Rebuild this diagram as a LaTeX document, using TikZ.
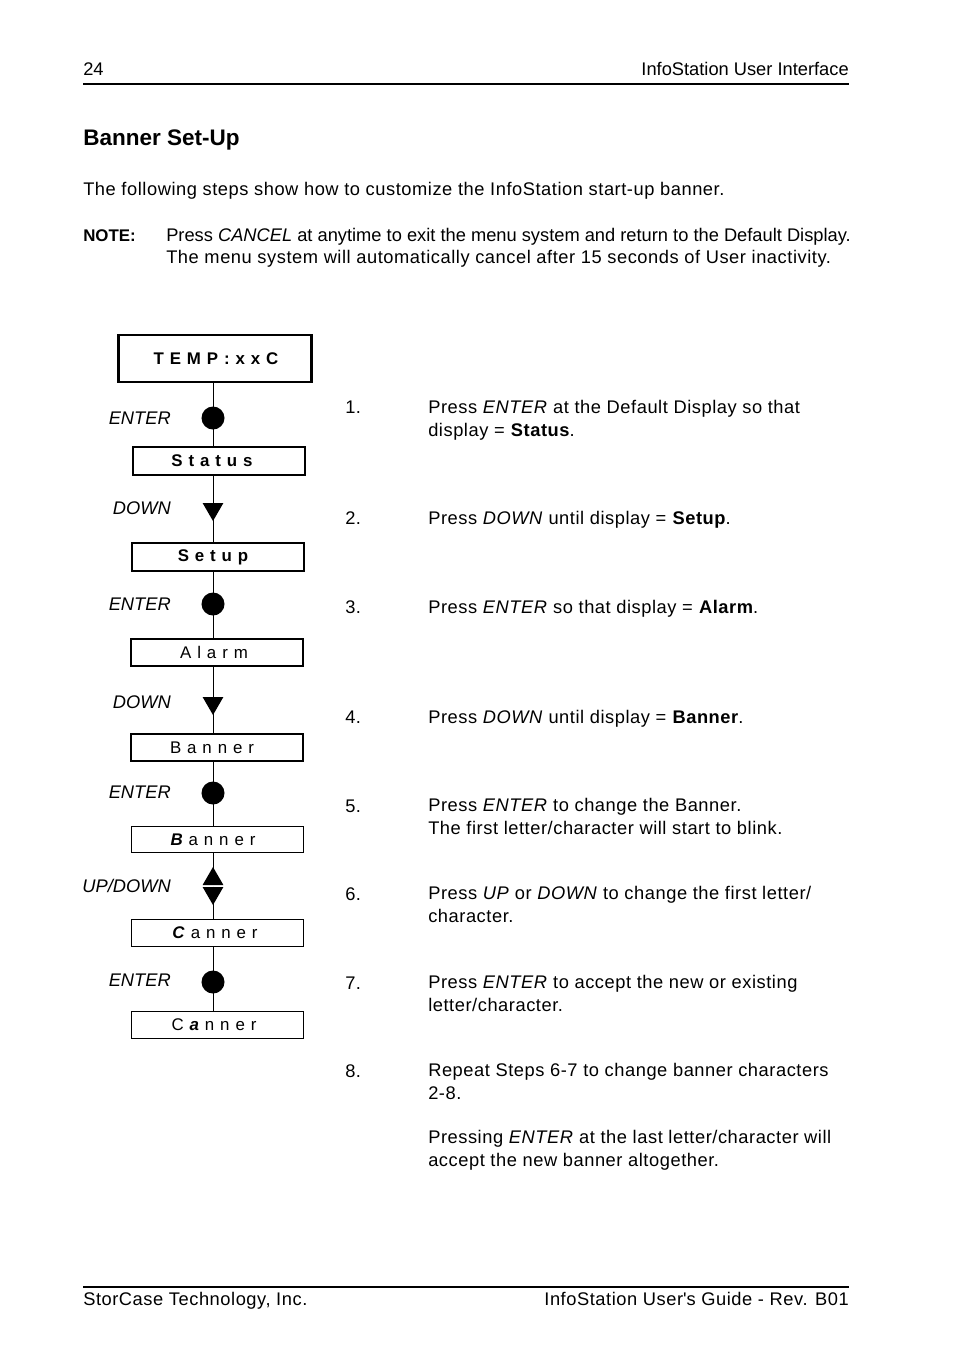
\documentclass[tikz,border=0pt]{standalone}
\usepackage{fontspec}
\setmainfont{Liberation Sans}[LetterSpace=3]
\newfontfamily\plainfont{Liberation Sans}
\newfontfamily\lcdfont[LetterSpace=35]{Liberation Sans}
\usetikzlibrary{positioning,arrows.meta,shapes.geometric,backgrounds}

\begin{document}
\begin{tikzpicture}[x=0.025cm, y=-0.025cm,
    every node/.style={font=\fontsize{13}{16.2}\selectfont, inner sep=0pt},
    txt/.style={anchor=base west, align=left},
    rtxt/.style={anchor=base east, align=right},
    keylabel/.style={anchor=east, font=\fontsize{13}{15}\selectfont\plainfont\itshape},
    lcd/.style={draw, line width=1.4pt, minimum width=4.3cm, minimum height=0.68cm},
    lcdthin/.style={draw, line width=0.7pt, minimum width=4.3cm, minimum height=0.66cm},
    lcdtext/.style={font=\fontsize{12}{14}\selectfont\lcdfont},
    enterkey/.style={circle, fill, minimum size=0.575cm},
    downkey/.style={regular polygon, regular polygon sides=3, shape border rotate=180,
                    fill, minimum size=0.6cm},
    upkey/.style={regular polygon, regular polygon sides=3, fill, minimum size=0.6cm},
    conn/.style={line width=0.6pt}]
  \useasboundingbox (0,0) rectangle (954,1369);
  % page header and intro
  \node[txt, font=\fontsize{13}{16}\selectfont\plainfont] (pagenum) at (83,75) {24};
  \node[rtxt, font=\fontsize{13}{16}\selectfont\plainfont] (chapter) at (849,75) {InfoStation User Interface};
  \draw[line width=0.8pt] (83,84) -- (849,84);
  \node[txt, font=\fontsize{16}{19}\selectfont\plainfont\bfseries] (title) at (83,145) {Banner Set-Up};
  \node[txt] (intro) at (83,195)
       {The following steps show how to customize the InfoStation start-up banner.};
  \node[txt, font=\fontsize{12}{16}\selectfont\plainfont\bfseries] (notehead) at (83,241) {NOTE:};
  \node[txt, font=\fontsize{13}{16}\selectfont\plainfont] (notebody) at (166,241)
       {Press \textit{CANCEL} at anytime to exit the menu system and return to the Default Display.};
  \node[txt] (notebodyb) at (166,263)
       {The menu system will automatically cancel after 15 seconds of User inactivity.};
  % display boxes
  \node[draw, line width=2.1pt, minimum width=4.8cm, minimum height=1.175cm] (temp) at (215,358.5) {};
  \node[lcdtext] (temptxt) at (216,358.5) {\bfseries TEMP:xxC};
  \node[lcd] (status) at (219,461) {};
  \node[lcdtext] (statustxt) at (212,461) {\bfseries Status};
  \node[lcd] (setup) at (218,557) {};
  \node[lcdtext] (setuptxt) at (213,557) {\bfseries Setup};
  \node[lcd] (alarm) at (217,652.5) {};
  \node[lcdtext] (alarmtxt) at (214,652.5) {Alarm};
  \node[lcd] (banner) at (217,747.5) {};
  \node[lcdtext] (bannertxt) at (212,747.5) {Banner};
  \node[lcdthin] (bannerb) at (217.5,839.5) {};
  \node[lcdtext] (bannerbtxt) at (213,839.5) {\textbf{\textit{B}}anner};
  \node[lcdthin] (cannerc) at (217.5,933) {};
  \node[lcdtext] (cannerctxt) at (215,933) {\textbf{\textit{C}}anner};
  \node[lcdthin] (cannera) at (217.5,1025) {};
  \node[lcdtext] (canneratxt) at (214,1025) {C\textbf{\textit{a}}nner};
  % keys
  \node[enterkey] (e1) at (213,418) {};
  \node[downkey] (d1) at (213,509) {};
  \node[enterkey] (e2) at (213,604) {};
  \node[downkey] (d2) at (213,703) {};
  \node[enterkey] (e3) at (213,793) {};
  \node[upkey] (u1) at (213,879) {};
  \node[downkey] (d3) at (213,893) {};
  \node[enterkey] (e4) at (213,982) {};
  \node[keylabel] (e1lbl) at (171,418) {ENTER};
  \node[keylabel] (d1lbl) at (171,508) {DOWN};
  \node[keylabel] (e2lbl) at (171,604) {ENTER};
  \node[keylabel] (d2lbl) at (171,702) {DOWN};
  \node[keylabel] (e3lbl) at (171,792) {ENTER};
  \node[keylabel] (udlbl) at (171,886) {UP/DOWN};
  \node[keylabel] (e4lbl) at (171,980) {ENTER};
  \begin{scope}[on background layer]
    \draw[conn] (e1 |- temp.south) -- (e1 |- status.north);
    \draw[conn] (d1 |- status.south) -- (d1 |- setup.north);
    \draw[conn] (e2 |- setup.south) -- (e2 |- alarm.north);
    \draw[conn] (d2 |- alarm.south) -- (d2 |- banner.north);
    \draw[conn] (e3 |- banner.south) -- (e3 |- bannerb.north);
    \draw[conn] (u1 |- bannerb.south) -- (u1.south);
    \draw[conn] (d3.north) -- (d3 |- cannerc.north);
    \draw[conn] (e4 |- cannerc.south) -- (e4 |- cannera.north);
  \end{scope}
  % steps
  \node[txt] (n1) at (345,413) {1.};
  \node[txt] (s1) at (428,436) {Press \textit{ENTER} at the Default Display so that\\display = \textbf{Status}.};
  \node[txt] (n2) at (345,524) {2.};
  \node[txt] (s2) at (428,524) {Press \textit{DOWN} until display = \textbf{Setup}.};
  \node[txt] (n3) at (345,613) {3.};
  \node[txt] (s3) at (428,613) {Press \textit{ENTER} so that display = \textbf{Alarm}.};
  \node[txt] (n4) at (345,723) {4.};
  \node[txt] (s4) at (428,723) {Press \textit{DOWN} until display = \textbf{Banner}.};
  \node[txt] (n5) at (345,812) {5.};
  \node[txt] (s5) at (428,834) {Press \textit{ENTER} to change the Banner.\\The first letter/character will start to blink.};
  \node[txt] (n6) at (345,900) {6.};
  \node[txt] (s6) at (428,922) {Press \textit{UP} or \textit{DOWN} to change the first letter/\\character.};
  \node[txt] (n7) at (345,989) {7.};
  \node[txt] (s7) at (428,1011) {Press \textit{ENTER} to accept the new or existing\\letter/character.};
  \node[txt] (n8) at (345,1077) {8.};
  \node[txt] (s8) at (428,1099) {Repeat Steps 6-7 to change banner characters\\2-8.};
  \node[txt] (s8b) at (428,1166) {Pressing \textit{ENTER} at the last letter/character will\\accept the new banner altogether.};
  % page footer
  \draw[line width=0.8pt] (83,1287) -- (849,1287);
  \node[txt] (company) at (83,1305) {StorCase Technology, Inc.};
  \node[rtxt] (guide) at (849,1305) {InfoStation User\textquotesingle s Guide - Rev. B01};
\end{tikzpicture}
\end{document}
